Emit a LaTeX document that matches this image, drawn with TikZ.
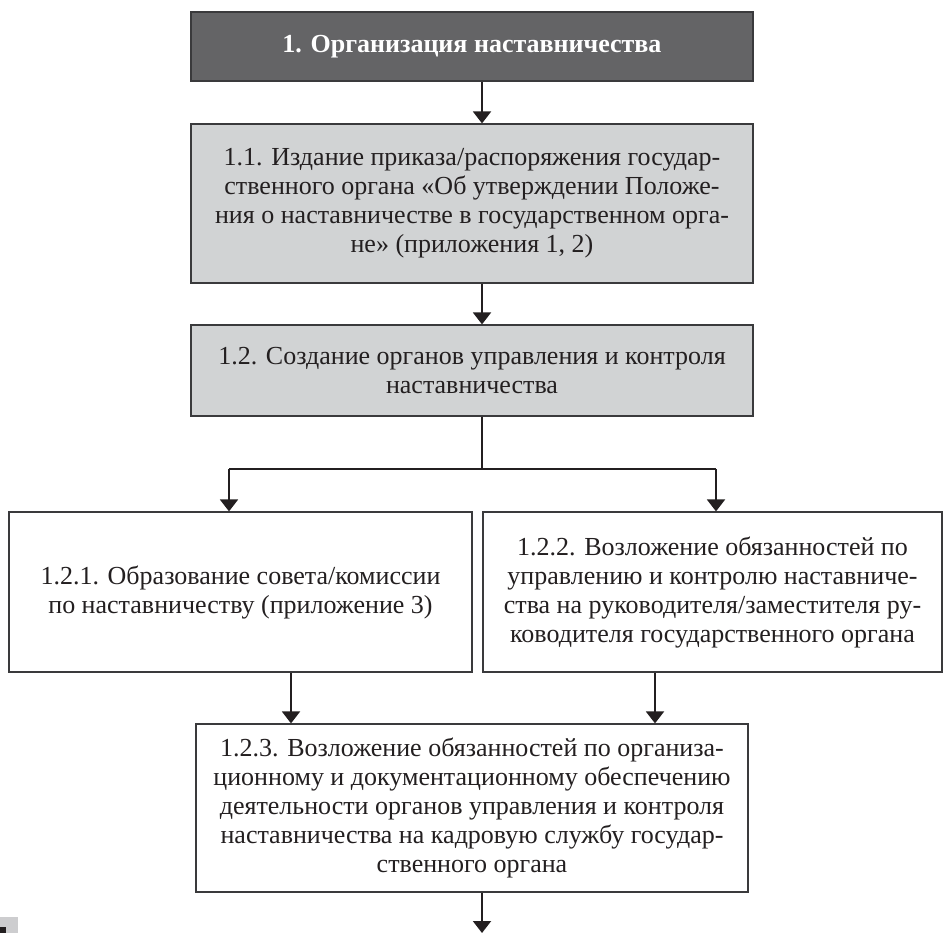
\documentclass[tikz,border=0pt]{standalone}
\usepackage{fontspec}
\setmainfont{Liberation Serif}
\usetikzlibrary{arrows.meta}
\definecolor{darkfill}{HTML}{646466}
\definecolor{lightfill}{HTML}{D1D3D4}
\definecolor{edgec}{HTML}{3A3A3C}
\definecolor{ink}{HTML}{231F20}
\definecolor{markgray}{HTML}{CDCDCF}
\begin{document}
\begin{tikzpicture}[x=1pt,y=-1pt,
  box/.style={draw=edgec, line width=1.2pt, inner sep=0pt, align=center,
    font=\fontsize{26}{29}\selectfont, text=ink},
  darkbox/.style={box, fill=darkfill, text=white, font=\fontsize{26}{29}\selectfont\bfseries},
  lightbox/.style={box, fill=lightfill},
  plainbox/.style={box, fill=white},
  arr/.style={draw=ink, line width=2pt, -{Triangle[width=18pt,length=12pt]}},
  ln/.style={draw=ink, line width=2pt}]
\fill[white] (0,0) rectangle (943,933);
\useasboundingbox (0,0) rectangle (943,933);

\node[darkbox, minimum width=562pt, minimum height=69pt] (A) at (472,46.5)
  {1. Организация наставничества};
\node[lightbox, minimum width=562pt, minimum height=159pt] (B) at (472,203.5)
  {1.1. Издание приказа/распоряжения государ-\\ственного органа «Об утверждении Положе-\\ния о наставничестве в государственном орга-\\не» (приложения 1, 2)};
\node[lightbox, minimum width=562pt, minimum height=91pt] (C) at (472,370.5)
  {1.2. Создание органов управления и контроля\\наставничества};
\node[plainbox, minimum width=463pt, minimum height=160pt] (D) at (240.5,592)
  {1.2.1. Образование совета/комиссии\\по наставничеству (приложение 3)};
\node[plainbox, minimum width=459pt, minimum height=160pt] (E) at (712.5,592)
  {1.2.2. Возложение обязанностей по\\управлению и контролю наставниче-\\ства на руководителя/заместителя ру-\\ководителя государственного органа};
\node[plainbox, minimum width=552pt, minimum height=168pt] (F) at (472,808)
  {1.2.3. Возложение обязанностей по организа-\\ционному и документационному обеспечению\\деятельности органов управления и контроля\\наставничества на кадровую службу государ-\\ственного органа};

\coordinate (jl) at (229,469);
\coordinate (jr) at (716,469);
\coordinate (fl) at (291,700);
\coordinate (fr) at (655,700);
\coordinate (end) at (482,933);

\draw[arr] ([xshift=10pt]A.south) -- ([xshift=10pt]B.north);
\draw[arr] ([xshift=10pt]B.south) -- ([xshift=10pt]C.north);
\draw[ln] ([xshift=10pt]C.south) |- (jl);
\draw[ln] ([xshift=10pt]C.south) |- (jr);
\draw[arr] (jl) -- (jl |- D.north);
\draw[arr] (jr) -- (jr |- E.north);
\draw[arr] (fl |- D.south) -- (fl |- F.north);
\draw[arr] (fr |- E.south) -- (fr |- F.north);
\draw[arr] ([xshift=10pt]F.south) -- (end);

\fill[markgray] (0,917) rectangle (18,933);
\fill[ink] (0,927) rectangle (6,933);
\end{tikzpicture}
\end{document}
